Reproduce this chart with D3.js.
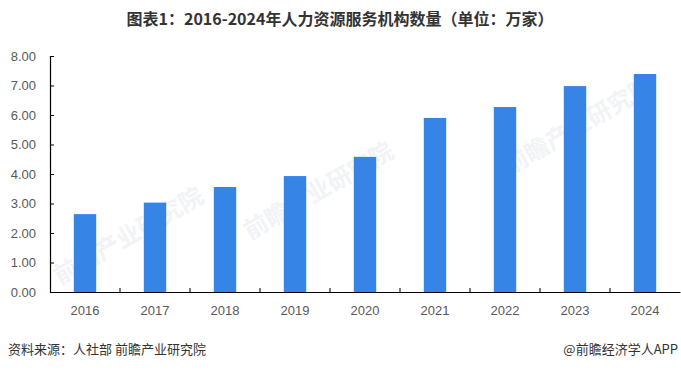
<!DOCTYPE html>
<html>
<head>
<meta charset="utf-8">
<script src="https://cdn.jsdelivr.net/npm/d3@7"></script>
<style>
  body { margin: 0; background: #fff; }
  text { font-family: "Liberation Sans", "Noto Sans CJK SC", sans-serif; }
</style>
</head>
<body>
<svg id="chart" width="681" height="370"></svg>
<script>
const years = ["2016", "2017", "2018", "2019", "2020", "2021", "2022", "2023", "2024"];
const counts = [2.64, 3.03, 3.56, 3.93, 4.58, 5.90, 6.27, 6.98, 7.39];
const yTicks = [0, 1, 2, 3, 4, 5, 6, 7, 8];

const svg = d3.select("#chart");
const margin = { top: 56, right: 1, bottom: 78, left: 50 };
const width = +svg.attr("width") - margin.left - margin.right;
const height = +svg.attr("height") - margin.top - margin.bottom;

svg.append("rect").attr("width", 681).attr("height", 370).attr("fill", "#fff");

// faint watermarks
const marks = [[60, 285], [250, 240], [510, 175]];
marks.forEach(([mx, my]) => {
  svg.append("text")
    .attr("transform", `translate(${mx},${my}) rotate(-30)`)
    .attr("font-size", 24)
    .attr("font-weight", "bold")
    .attr("fill", "#f1f3f6")
    .style("font-family", "'Noto Sans CJK SC'")
    .text("前瞻产业研究院");
});

// Title
svg.append("text")
  .attr("x", 340)
  .attr("y", 25)
  .attr("text-anchor", "middle")
  .attr("font-size", 16)
  .attr("font-weight", "bold")
  .attr("fill", "#333")
  .style("font-family", "'Noto Sans CJK SC'")
  .text("图表1：2016-2024年人力资源服务机构数量（单位：万家）");

const chart = svg.append("g")
  .attr("transform", `translate(${margin.left},${margin.top})`);

const x = d3.scaleBand()
  .domain(years)
  .range([0, width])
  .paddingInner(0.68)
  .paddingOuter(0.34);

const y = d3.scaleLinear()
  .domain([0, 8])
  .range([height, 0]);

// Bars
chart.selectAll(".bar")
  .data(years)
  .enter().append("rect")
  .attr("class", "bar")
  .attr("x", d => x(d))
  .attr("y", (d, i) => y(counts[i]))
  .attr("width", x.bandwidth())
  .attr("height", (d, i) => height - y(counts[i]))
  .attr("fill", "#3584e6");

// Y Axis
const yAxis = chart.append("g")
  .call(d3.axisLeft(y).tickValues(yTicks).tickSize(-4).tickPadding(14).tickFormat(d3.format(".2f")));
yAxis.select(".domain").attr("stroke", "#000").attr("stroke-width", 1.2);
yAxis.selectAll(".tick line").attr("stroke", "#000");
yAxis.selectAll("text")
  .attr("font-size", 13)
  .attr("fill", "#595959")
  .style("font-family", "'Liberation Sans'");

// X Axis
const xAxis = chart.append("g")
  .attr("transform", `translate(0,${height})`)
  .call(d3.axisBottom(x).tickSize(0).tickPadding(14));
xAxis.select(".domain").attr("stroke", "#000").attr("stroke-width", 1.2);
xAxis.selectAll("text")
  .attr("font-size", 13)
  .attr("fill", "#595959")
  .style("font-family", "'Liberation Sans'");

// category boundary ticks (pointing up)
const step = x.step();
chart.append("g")
  .selectAll("line")
  .data(d3.range(1, years.length))
  .enter().append("line")
  .attr("x1", d => d * step)
  .attr("x2", d => d * step)
  .attr("y1", height)
  .attr("y2", height - 4)
  .attr("stroke", "#000");

// Footer
svg.append("text")
  .attr("x", 8)
  .attr("y", 354)
  .attr("font-size", 13)
  .attr("fill", "#333")
  .style("font-family", "'Noto Sans CJK SC'")
  .text("资料来源：人社部  前瞻产业研究院");

svg.append("text")
  .attr("x", 678)
  .attr("y", 354)
  .attr("text-anchor", "end")
  .attr("font-size", 13)
  .attr("fill", "#333")
  .style("font-family", "'Noto Sans CJK SC'")
  .text("@前瞻经济学人APP");
</script>
</body>
</html>
